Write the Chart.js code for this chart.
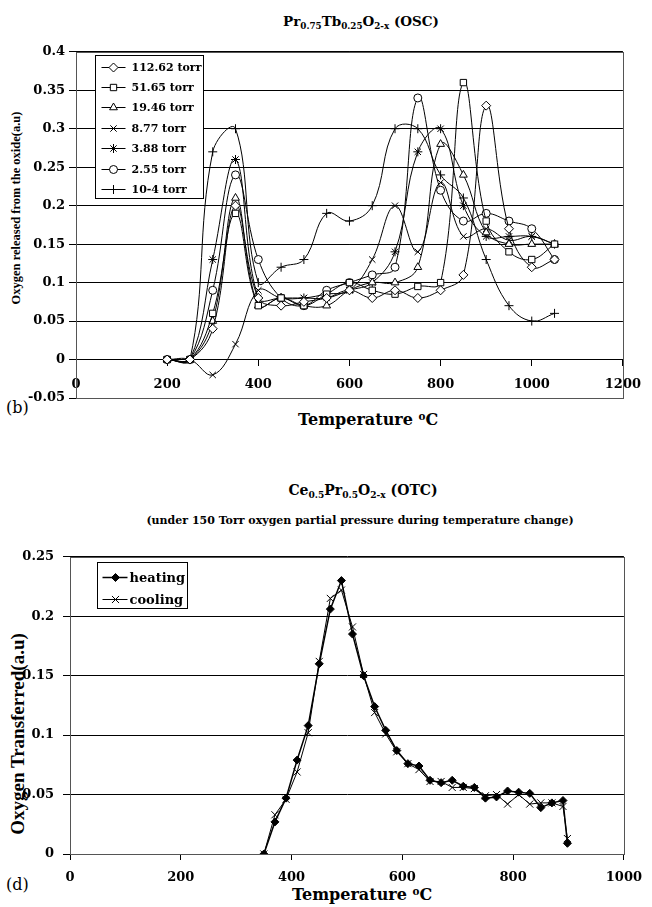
<!DOCTYPE html>
<html>
<head>
<meta charset="utf-8">
<title>OSC / OTC</title>
<script src="https://cdn.jsdelivr.net/npm/chart.js@4/dist/chart.umd.min.js"></script>
<style>
  html, body { margin: 0; padding: 0; background: #fff; }
  body { position: relative; width: 652px; height: 907px; overflow: hidden; font-family: 'DejaVu Serif', serif; color: #000; }
  canvas { position: absolute; left: 0; }
  #oscChart { top: 40px; }
  #otcChart { top: 540px; }
  .lbl { position: absolute; transform: translate(-50%, -50%); white-space: nowrap; font-weight: bold; line-height: 1; }
  .rot { transform: translate(-50%, -50%) rotate(-90deg); font-family: 'Liberation Serif', serif; }
  .sub { font-size: 0.65em; position: relative; top: 0.35em; }
  .sup { font-size: 0.65em; position: relative; top: -0.45em; }
  .tag { position: absolute; font-weight: normal; font-size: 16px; line-height: 1; }
</style>
</head>
<body>

<div class="lbl" style="left:361px; top:22px; font-size:13.5px;">Pr<span class="sub">0.75</span>Tb<span class="sub">0.25</span>O<span class="sub">2-x</span> (OSC)</div>
<div class="lbl rot" style="left:16px; top:208px; font-size:12.5px;">Oxygen released from the oxide(a.u)</div>
<div class="lbl" style="left:368px; top:420px; font-size:16px;">Temperature <span class="sup">o</span>C</div>
<div class="tag" style="left:6px; top:400px;">(b)</div>

<div class="lbl" style="left:363px; top:490px; font-size:14px;">Ce<span class="sub">0.5</span>Pr<span class="sub">0.5</span>O<span class="sub">2-x</span> (OTC)</div>
<div class="lbl" style="left:360px; top:520px; font-size:11px;">(under 150 Torr oxygen partial pressure during temperature change)</div>
<div class="lbl rot" style="left:17px; top:734px; font-size:19px;">Oxygen Transferred(a.u)</div>
<div class="lbl" style="left:362px; top:895px; font-size:16px;">Temperature <span class="sup">o</span>C</div>
<div class="tag" style="left:6px; top:877px;">(d)</div>

<canvas id="oscChart" width="652" height="372"></canvas>
<canvas id="otcChart" width="652" height="367"></canvas>

<script>
// ---- (b) oxygen released vs temperature, one series per O2 pressure ----
const oscTemps = [200, 250, 300, 350, 400, 450, 500, 550, 600, 650, 700, 750, 800, 850, 900, 950, 1000, 1050];
const osc11262 = [0, 0, 0.04, 0.20, 0.08, 0.07, 0.075, 0.08, 0.09, 0.08, 0.09, 0.08, 0.09, 0.11, 0.33, 0.17, 0.12, 0.13];
const osc5165  = [0, 0, 0.06, 0.19, 0.07, 0.08, 0.07, 0.085, 0.10, 0.09, 0.085, 0.095, 0.10, 0.36, 0.18, 0.14, 0.13, 0.15];
const osc1946  = [0, 0, 0.05, 0.21, 0.07, 0.08, 0.07, 0.07, 0.09, 0.10, 0.10, 0.12, 0.28, 0.24, 0.165, 0.15, 0.15, 0.15];
const osc877   = [0, 0, -0.02, 0.02, 0.09, 0.08, 0.08, 0.085, 0.09, 0.13, 0.20, 0.14, 0.23, 0.16, 0.17, 0.155, 0.16, 0.15];
const osc388   = [0, 0, 0.13, 0.26, 0.08, 0.08, 0.08, 0.08, 0.09, 0.10, 0.14, 0.27, 0.30, 0.20, 0.16, 0.16, 0.16, 0.15];
const osc255   = [0, 0, 0.09, 0.24, 0.13, 0.08, 0.07, 0.09, 0.10, 0.11, 0.12, 0.34, 0.22, 0.18, 0.19, 0.18, 0.17, 0.13];
const osc1e4   = [0, 0, 0.27, 0.30, 0.10, 0.12, 0.13, 0.19, 0.18, 0.20, 0.30, 0.30, 0.24, 0.21, 0.13, 0.07, 0.05, 0.06];
const oscLabels = ['112.62 torr', '51.65 torr', '19.46 torr', '8.77 torr', '3.88 torr', '2.55 torr', '10-4 torr'];
const oscMarkers = ['rectRot', 'rect', 'triangle', 'crossRot', 'star', 'circle', 'cross'];
const oscXTicks = [0, 200, 400, 600, 800, 1000, 1200];
const oscYTicks = [-0.05, 0, 0.05, 0.1, 0.15, 0.2, 0.25, 0.3, 0.35, 0.4];

// ---- (d) oxygen transferred on heating / cooling ----
const heatTemps = [350, 370, 390, 410, 430, 450, 470, 490, 510, 530, 550, 570, 590, 610, 630, 650, 670, 690, 710, 730, 750, 770, 790, 810, 830, 850, 870, 890, 898];
const heatVals  = [0, 0.027, 0.047, 0.079, 0.108, 0.160, 0.206, 0.230, 0.185, 0.150, 0.124, 0.104, 0.087, 0.076, 0.074, 0.062, 0.060, 0.062, 0.057, 0.056, 0.047, 0.048, 0.053, 0.052, 0.051, 0.039, 0.043, 0.045, 0.009];
const coolTemps = [350, 370, 390, 410, 430, 450, 470, 490, 510, 530, 550, 570, 590, 610, 630, 650, 670, 690, 710, 730, 750, 770, 790, 810, 830, 850, 870, 890, 898];
const coolVals  = [0, 0.033, 0.046, 0.069, 0.102, 0.162, 0.215, 0.222, 0.191, 0.151, 0.119, 0.101, 0.086, 0.076, 0.071, 0.061, 0.061, 0.056, 0.056, 0.055, 0.049, 0.050, 0.042, 0.050, 0.042, 0.043, 0.043, 0.040, 0.013];
const otcLabels = ['heating', 'cooling'];
const otcXTicks = [0, 200, 400, 600, 800, 1000];
const otcYTicks = [0, 0.05, 0.1, 0.15, 0.2, 0.25];

Chart.defaults.font.family = "'DejaVu Serif', serif";
Chart.defaults.font.weight = 'bold';
Chart.defaults.font.size = 13;
Chart.defaults.color = '#000';

const pts = (xs, ys) => xs.map((x, i) => ({ x, y: ys[i] }));
const fmt = v => String(Math.round(v * 100) / 100);
const plain = v => String(v);

// marker drawing shared by the in-plot legend
function drawMarker(ctx, style, r, x, y) {
  if (Chart.helpers && Chart.helpers.drawPoint) {
    Chart.helpers.drawPoint(ctx, { pointStyle: style, radius: r, borderWidth: 1, rotation: 0 }, x, y);
    return;
  }
  ctx.beginPath();
  ctx.arc(x, y, r, 0, Math.PI * 2);
  ctx.fill();
  ctx.stroke();
}

// boxed legend drawn inside the plot area, top-left
const boxLegend = {
  id: 'boxLegend',
  afterDatasetsDraw(chart, args, o) {
    const { ctx, chartArea } = chart;
    const x0 = Math.round(chartArea.left + o.left) + 0.5;
    const y0 = Math.round(chartArea.top + o.top) + 0.5;
    ctx.save();
    ctx.fillStyle = '#fff';
    ctx.fillRect(x0, y0, o.width, o.height);
    ctx.strokeStyle = '#000';
    ctx.lineWidth = 1;
    ctx.strokeRect(x0, y0, o.width, o.height);
    ctx.font = o.font;
    ctx.textBaseline = 'middle';
    chart.data.datasets.forEach((ds, i) => {
      const cy = Math.round(y0 + o.first + i * o.row) + 0.5;
      ctx.strokeStyle = ds.borderColor;
      ctx.lineWidth = ds.borderWidth;
      ctx.beginPath();
      ctx.moveTo(x0 + o.lineFrom, cy);
      ctx.lineTo(x0 + o.lineTo, cy);
      ctx.stroke();
      ctx.fillStyle = ds.pointBackgroundColor;
      ctx.strokeStyle = ds.pointBorderColor;
      ctx.lineWidth = 1;
      drawMarker(ctx, ds.pointStyle, ds.pointRadius, x0 + o.marker, cy);
      ctx.fillStyle = '#000';
      ctx.fillText(ds.label, x0 + o.text, cy + 1);
    });
    ctx.restore();
  }
};

// plot frame
const plotFrame = {
  id: 'plotFrame',
  beforeDatasetsDraw(chart, args, o) {
    const { ctx, chartArea: a } = chart;
    ctx.save();
    ctx.strokeStyle = o.color || '#666';
    ctx.lineWidth = 1;
    ctx.strokeRect(Math.round(a.left) + 0.5, Math.round(a.top) + 0.5, Math.round(a.right - a.left), Math.round(a.bottom - a.top));
    ctx.restore();
  }
};

// ---- chart (b) ----
const oscSeries = [osc11262, osc5165, osc1946, osc877, osc388, osc255, osc1e4];
new Chart(document.getElementById('oscChart'), {
  type: 'line',
  data: {
    datasets: oscSeries.map((vals, i) => ({
      label: oscLabels[i],
      data: pts(oscTemps, vals),
      borderColor: '#000',
      borderWidth: 1,
      tension: 0.4,
      fill: false,
      pointStyle: oscMarkers[i],
      pointRadius: oscMarkers[i] === 'circle' ? 4 : 4.5,
      pointBorderWidth: 1,
      pointBackgroundColor: '#fff',
      pointBorderColor: '#000'
    }))
  },
  options: {
    responsive: false,
    animation: false,
    devicePixelRatio: 1,
    layout: { padding: { top: 11, right: 21, bottom: 14, left: 0 } },
    plugins: {
      legend: { display: false },
      tooltip: { enabled: false },
      plotFrame: { color: '#555' },
      boxLegend: { left: 19, top: 3, width: 108, height: 143, first: 11, row: 20.4,
                   lineFrom: 6, lineTo: 30, marker: 18, text: 36, font: "bold 11px 'DejaVu Serif', serif" }
    },
    scales: {
      x: {
        type: 'linear',
        position: { y: 0 },
        min: oscXTicks[0],
        max: oscXTicks[oscXTicks.length - 1],
        afterBuildTicks: s => { s.ticks = oscXTicks.map(v => ({ value: v })); },
        ticks: { padding: 11, maxRotation: 0, autoSkip: false, callback: plain },
        grid: { drawOnChartArea: false, tickLength: 6, color: '#000' },
        border: { color: '#000' }
      },
      y: {
        min: oscYTicks[0],
        max: oscYTicks[oscYTicks.length - 1],
        afterBuildTicks: s => { s.ticks = oscYTicks.map(v => ({ value: v })); },
        ticks: { padding: 4, callback: fmt, autoSkip: false },
        grid: { color: '#000', tickLength: 7 },
        border: { color: '#000' },
        afterFit: s => { s.width = 76; }
      }
    }
  },
  plugins: [plotFrame, boxLegend]
});

// ---- chart (d) ----
new Chart(document.getElementById('otcChart'), {
  type: 'line',
  data: {
    datasets: [
      {
        label: otcLabels[0],
        data: pts(heatTemps, heatVals),
        borderColor: '#000',
        borderWidth: 1.5,
        tension: 0,
        fill: false,
        pointStyle: 'rectRot',
        pointRadius: 4,
        pointBorderWidth: 1,
        pointBackgroundColor: '#000',
        pointBorderColor: '#000'
      },
      {
        label: otcLabels[1],
        data: pts(coolTemps, coolVals),
        borderColor: '#000',
        borderWidth: 1,
        tension: 0,
        fill: false,
        pointStyle: 'crossRot',
        pointRadius: 5,
        pointBorderWidth: 1,
        pointBackgroundColor: '#fff',
        pointBorderColor: '#000'
      }
    ]
  },
  options: {
    responsive: false,
    animation: false,
    devicePixelRatio: 1,
    layout: { padding: { top: 12, right: 23, bottom: 0, left: 0 } },
    plugins: {
      legend: { display: false },
      tooltip: { enabled: false },
      plotFrame: { color: '#555' },
      boxLegend: { left: 27, top: 5, width: 90, height: 46, first: 14, row: 22,
                   lineFrom: 5, lineTo: 30, marker: 18, text: 32, font: "bold 13px 'DejaVu Serif', serif" }
    },
    scales: {
      x: {
        type: 'linear',
        min: otcXTicks[0],
        max: otcXTicks[otcXTicks.length - 1],
        afterBuildTicks: s => { s.ticks = otcXTicks.map(v => ({ value: v })); },
        ticks: { padding: 10, maxRotation: 0, autoSkip: false, callback: plain },
        grid: { drawOnChartArea: false, tickLength: 6, color: '#000' },
        border: { color: '#000' },
        afterFit: s => { s.height = 53; }
      },
      y: {
        min: otcYTicks[0],
        max: otcYTicks[otcYTicks.length - 1],
        afterBuildTicks: s => { s.ticks = otcYTicks.map(v => ({ value: v })); },
        ticks: { padding: 9, callback: fmt, autoSkip: false },
        grid: { color: '#000', tickLength: 7 },
        border: { color: '#000' },
        afterFit: s => { s.width = 70; }
      }
    }
  },
  plugins: [plotFrame, boxLegend]
});
</script>
</body>
</html>
